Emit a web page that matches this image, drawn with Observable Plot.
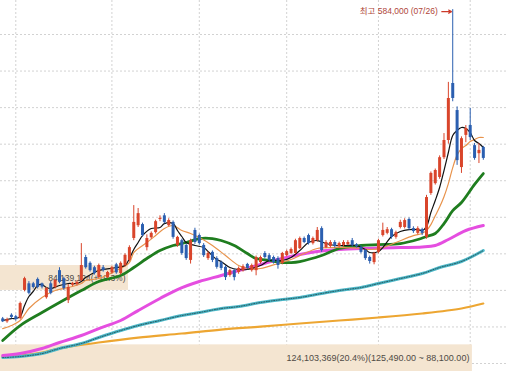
<!DOCTYPE html>
<html><head><meta charset="utf-8">
<script src="https://cdn.jsdelivr.net/npm/d3@7"></script>
<script src="https://cdn.jsdelivr.net/npm/@observablehq/plot@0.6"></script>
<style>html,body{margin:0;padding:0;background:#fff}svg{display:block}</style>
</head><body><div id="chart"></div>
<script>
// Daily candles, 2/24 .. 8/4 (trading-day index 0..110), prices in KRW
const open = [161000,157000,166000,164000,161500,200000,209000,209000,215000,209000,190000,209000,204000,227000,216000,186000,207000,208000,213500,245000,237000,231000,217500,231000,217500,224000,235000,223000,234000,241000,271000,288500,290000,258500,272000,279000,297000,302000,288500,293000,261500,268000,261500,241000,282000,275000,261500,243500,252000,243500,238000,231500,220500,227000,224500,227000,235500,227000,227000,238000,250500,247500,245000,243500,237000,247500,250500,250500,257000,271000,275000,264000,268000,284500,258500,260000,265500,260000,261500,262500,268000,262500,258500,254500,245000,238000,252000,275000,278000,283000,272500,286000,286000,297000,284500,278000,283000,272500,332500,346000,354500,381500,405000,483000,446000,368000,412000,425500,398000,387000,395500];
const high = [163000,162000,168000,166000,184000,218000,212000,211000,217000,210000,204000,212000,215000,231000,218000,208000,211000,213000,264000,248000,239000,233000,236000,234000,226000,233000,237000,239000,250000,261000,316000,312000,292000,276000,280000,296000,302000,305000,298000,295000,274000,270000,263000,270000,285000,277000,264000,253000,254000,246000,240000,234000,229000,229000,232000,235000,237000,236000,247000,247000,253000,250000,247000,246000,252000,255000,258000,270000,273000,273000,277000,273000,286000,287000,268000,268000,268000,266000,268000,268000,271000,264000,261000,256000,247000,252000,270000,292000,286000,285000,281000,296000,298000,299000,287000,287000,285000,330000,362000,366000,384000,414500,484500,584000,451000,410000,425500,449000,401000,401000,397000];
const low = [156000,155000,161000,158000,160000,198000,194000,202000,202000,202000,188000,194000,202000,209000,200000,182000,205000,206000,212000,229000,225000,221000,216000,225000,216000,222000,222000,221000,232000,239000,268000,286000,273000,254000,270000,277000,294000,291000,287000,270000,259000,248000,241000,236000,263000,262000,245000,241000,238000,229000,227000,213500,218000,213000,222000,225000,228000,225000,220000,236000,243000,239000,236000,229000,235000,246000,249000,249000,256000,264000,262000,262000,266000,252000,257000,258000,258000,258000,259000,261000,259000,258000,250000,241000,236000,235000,250000,273000,276000,270000,270000,284000,284000,282000,278000,276000,275000,270000,330000,344000,352000,379000,400000,458000,371000,360000,402000,405000,378000,373500,378000];
const close = [157000,160000,163000,160000,182000,216000,196000,204000,204000,204500,202500,196000,213500,211000,202500,204000,209500,211000,234000,231000,227000,223000,234000,227000,224500,231000,224000,237000,248000,258500,293000,305000,275000,271000,278000,294000,298500,293000,295500,272500,272500,250500,243500,268000,265500,264000,247500,250500,241000,231500,230000,217500,227000,217500,230000,232500,230000,234000,245000,245000,245000,241000,238000,234000,250500,253000,256000,268000,271000,265500,264000,271000,282000,254500,265500,265500,260000,264000,265500,265500,261500,260000,252000,243500,239500,250500,268000,282000,283000,272500,279000,293000,295500,284500,280500,284500,278000,327000,360000,364000,381500,405000,462500,462500,377500,407500,421500,409000,380500,391500,380500];

// Moving averages: [trading-day index, price]
const ma5 = [[0,158800],[2,161500],[3,161500],[4,164200],[5,179300],[6,191600],[7,198500],[8,206700],[9,208000],[10,203900],[11,202600],[13,206700],[15,209400],[17,209400],[18,212100],[19,217600],[21,224500],[22,227200],[26,231300],[28,234000],[29,243600],[30,255900],[31,265500],[32,275000],[34,284600],[36,286000],[37,291400],[39,291400],[40,281900],[41,273700],[42,265500],[44,261400],[46,258600],[47,253200],[49,242200],[50,239500],[52,231300],[54,228600],[56,228600],[59,234000],[61,240900],[64,240900],[66,245000],[68,254500],[70,265500],[72,268200],[74,264100],[76,261400],[78,261400],[81,261400],[83,255900],[84,251800],[86,253200],[87,258600],[89,273700],[91,280500],[93,283200],[95,283200],[96,281900],[97,287300],[98,306500],[99,322900],[100,340700],[101,363900],[102,388600],[103,411800],[104,418700],[105,422800],[106,421400],[107,415900],[108,405000],[109,400900],[110,395400]];
const ma10 = [[0,147800],[2,151900],[4,158800],[6,175200],[9,190300],[12,199800],[15,203900],[18,209400],[19,213500],[22,216200],[26,227200],[29,238100],[30,251800],[33,265500],[35,275000],[37,284600],[39,288700],[41,281900],[43,277800],[45,272300],[48,261400],[51,247700],[54,234000],[56,229900],[59,229900],[63,236800],[66,242200],[69,250400],[72,257300],[75,258600],[78,258600],[82,257300],[84,255900],[87,258600],[90,265500],[94,275000],[96,277800],[97,282000],[98,290000],[99,302000],[100,314000],[101,328000],[102,346000],[103,368000],[104,385000],[105,394000],[106,398100],[107,403600],[108,406400],[109,409100],[110,409100]];
const ma20 = [[0,131400],[4,151900],[9,169700],[13,183400],[18,199800],[22,212100],[27,220300],[30,231300],[33,243600],[36,254500],[39,261400],[42,265500],[45,270900],[48,270900],[50,268200],[53,261400],[56,250400],[58,243600],[61,240900],[64,238100],[66,238100],[68,239500],[73,247700],[77,257300],[82,261400],[86,262700],[91,264100],[95,269600],[97,273700],[99,277800],[101,291400],[103,309000],[105,320200],[108,345000],[110,359800]];
const ma60 = [[0,110900],[4,113600],[9,120500],[13,128700],[18,138300],[22,147800],[27,158800],[31,172400],[36,188900],[40,201200],[45,212100],[50,220300],[54,227200],[59,235400],[63,242200],[68,249100],[72,253200],[77,255900],[82,257300],[86,257900],[91,258600],[96,259300],[99,261400],[102,269600],[106,281900],[110,288700]];
const ma120 = [[0,108200],[4,109500],[9,113600],[13,120500],[18,127300],[22,135500],[27,145100],[31,151900],[36,158800],[41,165600],[45,169700],[50,175200],[54,177900],[59,183400],[64,187500],[68,190300],[73,195700],[77,199800],[82,203900],[86,209400],[91,216200],[96,223100],[100,231300],[105,239500],[110,254500]];
const ma240 = [[0,109500],[4,110900],[9,115000],[13,120500],[22,128700],[31,135500],[41,141000],[50,146400],[59,150500],[68,154700],[77,158800],[86,162900],[96,168400],[105,175200],[110,182000]];

// Price-by-volume bands: price range, volume label, extent (trading-day index)
const profileLow = [88100, 200000];
const profileHigh = [125490, 234000];
const profileEnd = [107.5, 28.8];
const profileLabel = ["124,103,369(20.4%)(125,490.00 ~ 88,100.00)", "84,139,124(+19.3%)"];
const profileFont = [9, 8.5];

const priceGrid = [100000,150000,200000,250000,300000,350000,400000,450000,500000,550000];
const monthStarts = [3, 25, 45, 65, 86, 107];
const peak = {i: 103, price: 584000, date: "07/26"};

const RED = "#d9452b", BLUE = "#2b5fb0";
const candles = open.map((o, i) => ({i, open: o, high: high[i], low: low[i], close: close[i]}));
const profile = profileLow.map((lo, k) => ({lo, hi: profileHigh[k], end: profileEnd[k], label: profileLabel[k], fs: profileFont[k]}));
const xDomain = [-0.5, candles.length - 0.5];
const font = "'Liberation Sans', 'Noto Sans CJK KR', sans-serif";
const P = d => d[1], I = d => d[0];

const chart = Plot.plot({
  width: 507, height: 371, margin: 0,
  style: {background: "#fff"},
  x: {domain: xDomain, range: [0, 485], axis: null},
  y: {domain: [89058, 596505], axis: null},
  marks: [
    Plot.ruleY(priceGrid, {stroke: "#d2d2d2", strokeDasharray: "2,2"}),
    Plot.ruleX(monthStarts, {stroke: "#d2d2d2", strokeDasharray: "2,2"}),
    Plot.rect(profile, {x1: () => xDomain[0], x2: "end", y1: "lo", y2: "hi", fill: "#f4e5d1"}),
    ...profile.map(p => Plot.text([p], {x: "end", y: d => (d.lo + d.hi) / 2, text: "label", textAnchor: "end", dx: -3, fill: "#4f4a45", fontSize: p.fs, fontFamily: font})),
    Plot.line(ma240, {x: I, y: P, stroke: "#eda632", strokeWidth: 2.2, curve: "catmull-rom"}),
    Plot.line(ma120, {x: I, y: P, stroke: "#4cb8c8", strokeWidth: 3, curve: "catmull-rom"}),
    Plot.line(ma120, {x: I, y: P, stroke: "#1c3a40", strokeWidth: 1, strokeDasharray: "1,1.5", strokeOpacity: 0.8, curve: "catmull-rom"}),
    Plot.line(ma60, {x: I, y: P, stroke: "#e54ee0", strokeWidth: 3, curve: "catmull-rom"}),
    Plot.line(ma20, {x: I, y: P, stroke: "#1f7d1f", strokeWidth: 2.8, curve: "catmull-rom"}),
    Plot.line(ma10, {x: I, y: P, stroke: "#e8934c", strokeWidth: 1.2, curve: "catmull-rom"}),
    Plot.line(ma5, {x: I, y: P, stroke: "#111", strokeWidth: 1.2, curve: "catmull-rom"}),
    Plot.ruleX(candles, {x: "i", y1: "low", y2: "high", stroke: d => d.close >= d.open ? RED : BLUE, strokeWidth: 1}),
    Plot.ruleX(candles, {x: "i", y1: "open", y2: "close", stroke: d => d.close >= d.open ? RED : BLUE, strokeWidth: 3}),
    Plot.text([peak], {x: "i", y: "price", text: d => `최고 ${d3.format(",")(d.price)} (${d.date})`, textAnchor: "end", dx: -15, dy: 2, fill: "#b0463a", fontSize: 8.5, fontFamily: font}),
    Plot.arrow([peak], {x1: d => d.i - 2.5, x2: d => d.i - 0.3, y1: "price", y2: "price", dy: 2, stroke: "#cc3a2a", strokeWidth: 1.2, headLength: 5})
  ]
});
document.getElementById("chart").appendChild(chart);
</script>
</body></html>
